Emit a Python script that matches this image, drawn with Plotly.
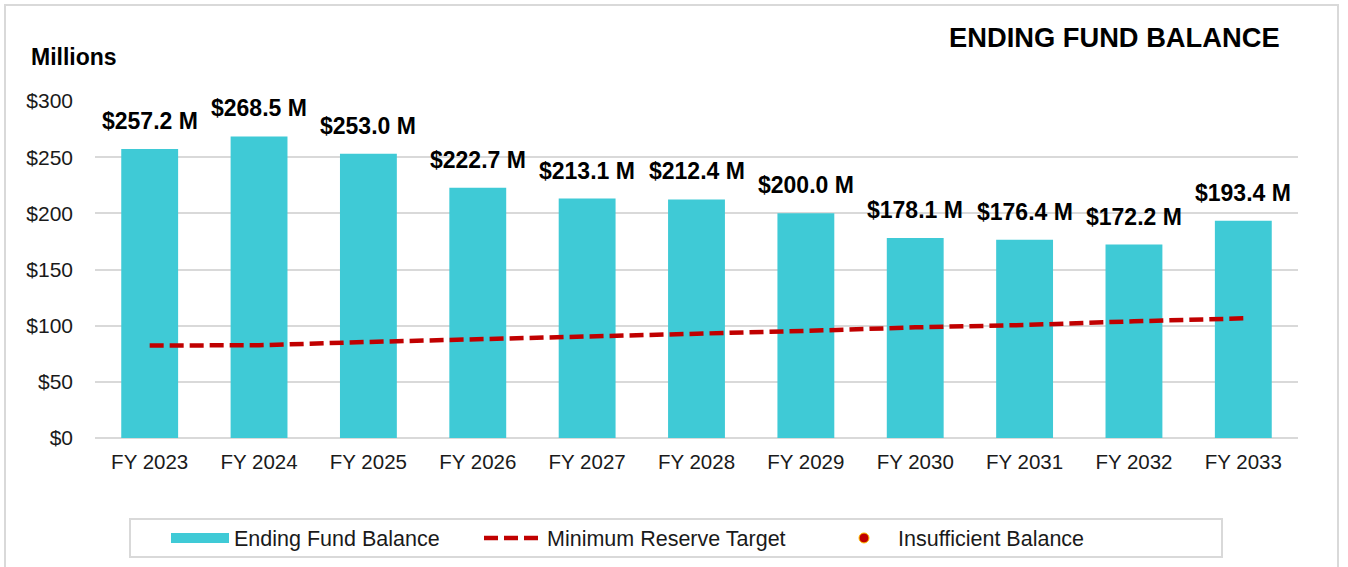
import plotly.graph_objects as go

# ---- data ----
years = ["FY 2023", "FY 2024", "FY 2025", "FY 2026", "FY 2027", "FY 2028",
         "FY 2029", "FY 2030", "FY 2031", "FY 2032", "FY 2033"]
ending_balance = [257.2, 268.5, 253.0, 222.7, 213.1, 212.4, 200.0, 178.1, 176.4, 172.2, 193.4]
reserve_target = [82.3, 82.6, 85.5, 87.8, 90.2, 93.2, 95.3, 98.5, 100.6, 103.9, 106.5]
y_ticks = [0, 50, 100, 150, 200, 250, 300]
y_tick_labels = ["$0", "$50", "$100", "$150", "$200", "$250", "$300"]

W, H = 1348, 567
L, R, T, B = 95, 1298, 101, 438  # plot area in px


def px_x(px):
    return (px - L) / (R - L)


def px_y(py):
    return (B - py) / (B - T)


CYAN = "#3FCAD6"
RED = "#C00000"
GRID = "#D9D9D9"
FONT = "Liberation Sans, Arial, sans-serif"
LEG_FONT = dict(family=FONT, size=21.5, color="#1a1a1a")

fig = go.Figure()

fig.add_trace(go.Bar(
    x=years, y=ending_balance, marker=dict(color=CYAN, line=dict(width=0)),
    name="Ending Fund Balance", showlegend=False, hoverinfo="x+y",
))
# legend proxy for bars (wide swatch)
fig.add_trace(go.Scatter(
    x=[None], y=[None], mode="lines", line=dict(color=CYAN, width=11),
    name="Ending Fund Balance", showlegend=True, legend="legend",
))
fig.add_trace(go.Scatter(
    x=years, y=reserve_target, mode="lines",
    line=dict(color=RED, width=4.5, dash="14px,6px"),
    name="Minimum Reserve Target", legend="legend2",
))
fig.add_trace(go.Scatter(
    x=[None], y=[None], mode="markers",
    marker=dict(color=RED, size=10, line=dict(color="#FFC000", width=1)),
    name="Insufficient Balance", legend="legend3",
))

# data labels
for yr, v in zip(years, ending_balance):
    fig.add_annotation(
        x=yr, y=v, xref="x", yref="y", text=f"<b>${v:.1f} M</b>",
        showarrow=False, yanchor="bottom", xanchor="center", yshift=13,
        font=dict(family=FONT, size=23, color="#000000"),
    )

# title & axis caption
fig.add_annotation(
    x=px_x(1282), y=px_y(55), xref="paper", yref="paper", text="<b>ENDING FUND BALANCE</b>",
    showarrow=False, xanchor="right", yanchor="bottom",
    font=dict(family=FONT, size=27.3, color="#000000"),
)
fig.add_annotation(
    x=px_x(29), y=px_y(71.7), xref="paper", yref="paper", text="<b>Millions</b>",
    showarrow=False, xanchor="left", yanchor="bottom",
    font=dict(family=FONT, size=23, color="#000000"),
)

# outer border and legend box
fig.add_shape(type="rect", xref="paper", yref="paper",
              x0=px_x(5), x1=px_x(1338), y0=px_y(5), y1=px_y(590),
              line=dict(color=GRID, width=2), fillcolor="rgba(0,0,0,0)", layer="below")
fig.add_shape(type="rect", xref="paper", yref="paper",
              x0=px_x(130), x1=px_x(1222), y0=px_y(519), y1=px_y(557),
              line=dict(color=GRID, width=2), fillcolor="rgba(0,0,0,0)", layer="below")


def leg(xpx):
    return dict(
        orientation="h", x=px_x(xpx), y=px_y(538), xanchor="left", yanchor="middle",
        font=LEG_FONT, itemwidth=58, bgcolor="rgba(0,0,0,0)", borderwidth=0,
    )


fig.update_layout(
    width=W, height=H,
    margin=dict(l=L, r=W - R, t=T, b=H - B, pad=0, autoexpand=False),
    paper_bgcolor="white", plot_bgcolor="white",
    bargap=0.48,
    font=dict(family=FONT, color="#1a1a1a"),
    showlegend=True,
    legend=leg(166),
    legend2=leg(479),
    legend3=leg(830),
    xaxis=dict(
        showgrid=False, showline=False, ticks="", tickfont=dict(family=FONT, size=20.5, color="#1a1a1a"),
        ticklabelstandoff=9, automargin=False,
    ),
    yaxis=dict(
        range=[0, 300], tickvals=y_ticks, ticktext=y_tick_labels,
        showgrid=True, gridcolor=GRID, gridwidth=2,
        zeroline=True, zerolinecolor=GRID, zerolinewidth=2,
        showline=False, ticks="", tickfont=dict(family=FONT, size=21, color="#1a1a1a"),
        ticklabelstandoff=21, automargin=False,
    ),
)

fig.write_html(
    "out.html",
    config={"displayModeBar": False},
    post_script="document.body.style.margin='0';document.body.style.overflow='hidden';",
)
